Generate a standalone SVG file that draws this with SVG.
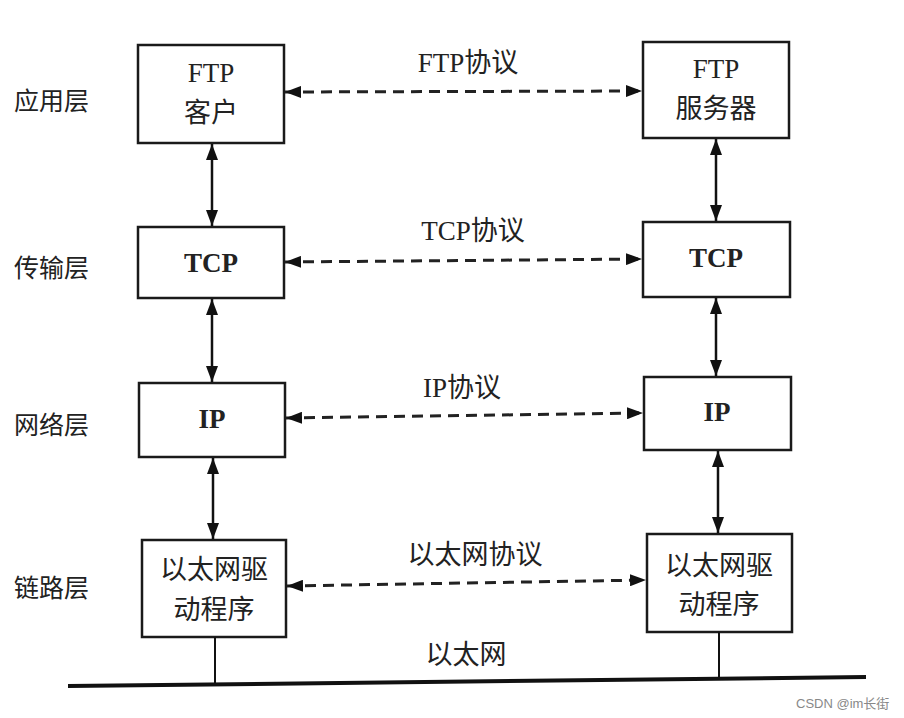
<svg xmlns="http://www.w3.org/2000/svg" width="904" height="718" viewBox="0 0 904 718">
<defs>
<marker id="ah" viewBox="0 0 16 12" refX="16" refY="6" markerWidth="16" markerHeight="12" markerUnits="userSpaceOnUse" orient="auto-start-reverse">
<path d="M0,0 L16,6 L0,12 Z" fill="#111"/>
</marker>
</defs>
<style>
.box{fill:#fff;stroke:#1a1a1a;stroke-width:2.5}
.t{font-family:"Liberation Serif","Noto Sans CJK SC",serif;font-size:27px;fill:#222;text-anchor:middle}
.b{font-weight:bold}
.lbl{font-family:"Liberation Serif","Noto Sans CJK SC",serif;font-size:25px;fill:#222}
.v{stroke:#111;stroke-width:2.5;fill:none;marker-start:url(#ah);marker-end:url(#ah)}
.d{stroke:#222;stroke-width:3;stroke-dasharray:11,7;fill:none;marker-start:url(#ah);marker-end:url(#ah)}
.ln{stroke:#111;stroke-width:2;fill:none}
</style>
<rect width="904" height="718" fill="#fff"/>
<g id="layers">
<text class="lbl" x="14" y="110">应用层</text>
<text class="lbl" x="14" y="277">传输层</text>
<text class="lbl" x="14" y="434">网络层</text>
<text class="lbl" x="14" y="597">链路层</text>
</g>
<g id="ftp-client"><rect class="box" x="138" y="45" width="146" height="98"/><text class="t" x="211" y="82">FTP</text><text class="t" x="211" y="122">客户</text></g>
<g id="tcp-left"><rect class="box" x="138" y="227" width="146" height="71"/><text class="t b" x="211" y="272">TCP</text></g>
<g id="ip-left"><rect class="box" x="139" y="383" width="146" height="74"/><text class="t b" x="212" y="428">IP</text></g>
<g id="eth-left"><rect class="box" x="142" y="540" width="144" height="97"/><text class="t" x="214" y="579">以太网驱</text><text class="t" x="214" y="619">动程序</text></g>
<g id="ftp-server"><rect class="box" x="643" y="42" width="146" height="96"/><text class="t" x="716" y="78">FTP</text><text class="t" x="716" y="118">服务器</text></g>
<g id="tcp-right"><rect class="box" x="643" y="222" width="147" height="75"/><text class="t b" x="716" y="267">TCP</text></g>
<g id="ip-right"><rect class="box" x="644" y="377" width="147" height="73"/><text class="t b" x="717" y="421">IP</text></g>
<g id="eth-right"><rect class="box" x="647" y="534" width="145" height="98"/><text class="t" x="719" y="575">以太网驱</text><text class="t" x="719" y="614">动程序</text></g>
<g id="connectors">
<line class="v" x1="212" y1="144" x2="212" y2="226"/>
<line class="v" x1="212" y1="299" x2="212" y2="382"/>
<line class="v" x1="213" y1="458" x2="213" y2="539"/>
<line class="v" x1="716" y1="139" x2="716" y2="221"/>
<line class="v" x1="716" y1="298" x2="716" y2="376"/>
<line class="v" x1="718" y1="451" x2="718" y2="533"/>
<line class="d" x1="285" y1="92" x2="642" y2="91"/>
<line class="d" x1="285" y1="262" x2="642" y2="259"/>
<line class="d" x1="286" y1="418" x2="643" y2="413"/>
<line class="d" x1="287" y1="586" x2="646" y2="580"/>
<line class="ln" x1="215" y1="637" x2="215" y2="684"/>
<line class="ln" x1="719" y1="632" x2="719" y2="678"/>
<line x1="68" y1="686" x2="866" y2="677" stroke="#111" stroke-width="4"/>
</g>
<g id="labels">
<text class="t" x="468" y="72" font-size="24">FTP协议</text>
<text class="t" x="473" y="240" font-size="24">TCP协议</text>
<text class="t" x="462" y="397" font-size="24">IP协议</text>
<text class="t" x="475" y="564" font-size="24">以太网协议</text>
<text class="t" x="466" y="664" font-size="24">以太网</text>
</g>
<text x="796" y="708" font-family="'Liberation Sans','Noto Sans CJK SC',sans-serif" font-size="13" fill="#888">CSDN @im长街</text>
</svg>
